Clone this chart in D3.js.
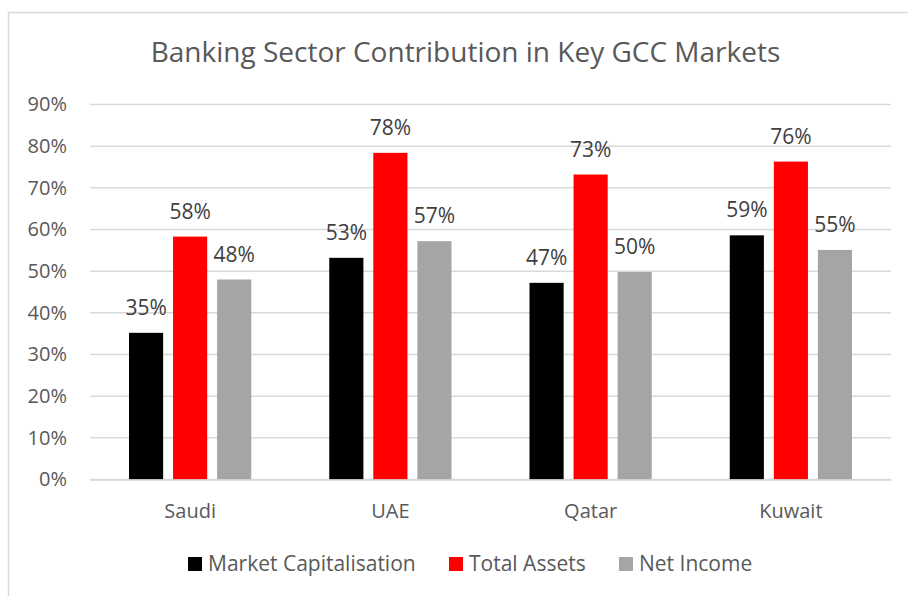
<!DOCTYPE html>
<html>
<head>
<meta charset="utf-8">
<script src="https://cdn.jsdelivr.net/npm/d3@7"></script>
<style>
  html, body { margin: 0; padding: 0; background: #fff; }
  svg { display: block; font-family: "Open Sans", "Noto Sans", sans-serif; }
</style>
</head>
<body>
<svg id="chart" width="908" height="596"></svg>
<script>
const categories = ["Saudi", "UAE", "Qatar", "Kuwait"];
const seriesNames = ["Market Capitalisation", "Total Assets", "Net Income"];
const seriesColors = ["#000000", "#ff0000", "#a5a5a5"];
const marketCap = [0.352, 0.532, 0.472, 0.586];
const totalAssets = [0.583, 0.784, 0.732, 0.763];
const netIncome = [0.480, 0.572, 0.498, 0.551];
const yTicks = [0, 0.1, 0.2, 0.3, 0.4, 0.5, 0.6, 0.7, 0.8, 0.9];
const chartTitle = "Banking Sector Contribution in Key GCC Markets";

(function () {
const seriesValues = [marketCap, totalAssets, netIncome];
const svg = d3.select("#chart");
const textColor = "#595959";

// chart frame
svg.append("rect")
  .attr("x", 8.5).attr("y", 12.5)
  .attr("width", 920).attr("height", 620)
  .attr("fill", "#fff").attr("stroke", "#d9d9d9").attr("stroke-width", 1.5);

const mLeft = 90, mRight = 891, mTop = 104.5, mBottom = 479.5;

const x0 = d3.scaleBand().domain(categories).range([mLeft, mRight]).paddingInner(0).paddingOuter(0);
const x1 = d3.scaleBand().domain(seriesNames).range([39, x0.bandwidth() - 39]).paddingInner(0.225).paddingOuter(0);
const y = d3.scaleLinear().domain([0, 0.9]).range([mBottom, mTop]);

// title
svg.append("text")
  .attr("x", 465.5).attr("y", 62)
  .attr("text-anchor", "middle")
  .attr("font-size", 28)
  .attr("fill", textColor)
  .text(chartTitle);

// gridlines
svg.append("g").selectAll("line").data(yTicks).join("line")
  .attr("x1", mLeft).attr("x2", mRight)
  .attr("y1", d => y(d)).attr("y2", d => y(d))
  .attr("stroke", "#d9d9d9").attr("stroke-width", 1.5);

// y axis labels
const yAxis = d3.axisLeft(y).tickValues(yTicks).tickFormat(d3.format(".0%")).tickSize(0).tickPadding(23);
const yg = svg.append("g").attr("transform", `translate(${mLeft},0)`).call(yAxis);
yg.select(".domain").remove();
yg.selectAll("text").attr("font-size", 20).attr("fill", textColor).attr("font-family", "'Open Sans', sans-serif");

// bars
const groups = svg.append("g").selectAll("g").data(categories).join("g")
  .attr("transform", d => `translate(${x0(d)},0)`);

groups.each(function(cat, ci) {
  const g = d3.select(this);
  seriesNames.forEach((s, si) => {
    const v = seriesValues[si][ci];
    g.append("rect")
      .attr("x", x1(s)).attr("width", x1.bandwidth())
      .attr("y", y(v)).attr("height", y(0) - y(v))
      .attr("fill", seriesColors[si]);
    g.append("text")
      .attr("x", x1(s) + x1.bandwidth() / 2)
      .attr("y", y(v) - 18)
      .attr("text-anchor", "middle")
      .attr("font-size", 21)
      .attr("fill", "#404040")
      .text(d3.format(".0%")(v));
  });
});

// x axis
const xAxis = d3.axisBottom(x0).tickSize(0).tickPadding(24);
const xg = svg.append("g").attr("transform", `translate(0,${mBottom})`).call(xAxis);
xg.select(".domain").attr("stroke", "#d9d9d9").attr("stroke-width", 1.5);
xg.selectAll("text").attr("font-size", 20).attr("fill", textColor).attr("font-family", "'Open Sans', sans-serif");

// legend
const legendX = [188, 449, 619];
const lg = svg.append("g").selectAll("g").data(seriesNames).join("g")
  .attr("transform", (d, i) => `translate(${legendX[i]},557)`);
lg.append("rect").attr("width", 14).attr("height", 14).attr("fill", (d, i) => seriesColors[i]);
lg.append("text").attr("x", 20).attr("y", 14.3)
  .attr("font-size", 21).attr("fill", textColor)
  .text(d => d);
})();
</script>
</body>
</html>
